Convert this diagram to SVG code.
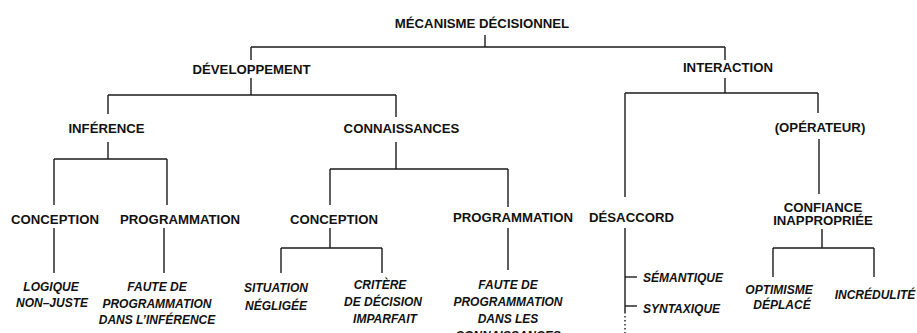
<svg xmlns="http://www.w3.org/2000/svg" width="917" height="333" viewBox="0 0 917 333">
<style>
.h{font-family:"Liberation Sans",Arial,sans-serif;font-weight:bold;font-size:13.2px;fill:#111;text-anchor:middle}
.i{font-family:"Liberation Sans",Arial,sans-serif;font-weight:bold;font-style:italic;font-size:12px;fill:#111;text-anchor:middle}
.l{text-anchor:start}
.c line{stroke:#1a1a1a;stroke-width:1.4;fill:none}
.c line.d{stroke-dasharray:1.5 2.5}
</style>
<rect width="917" height="333" fill="#fff"/>
<g class="c" id="connectors">
<line x1="485" y1="35" x2="485" y2="47"/>
<line x1="251" y1="47" x2="725" y2="47"/>
<line x1="251" y1="47" x2="251" y2="60"/>
<line x1="725" y1="47" x2="725" y2="60"/>
<line x1="251" y1="78" x2="251" y2="95"/>
<line x1="108" y1="95" x2="396" y2="95"/>
<line x1="108" y1="95" x2="108" y2="114"/>
<line x1="396" y1="95" x2="396" y2="117"/>
<line x1="108" y1="142" x2="108" y2="159"/>
<line x1="54" y1="159" x2="167" y2="159"/>
<line x1="54" y1="159" x2="54" y2="205"/>
<line x1="167" y1="159" x2="167" y2="205"/>
<line x1="396" y1="142" x2="396" y2="169"/>
<line x1="330" y1="169" x2="508" y2="169"/>
<line x1="330" y1="169" x2="330" y2="205"/>
<line x1="508" y1="169" x2="508" y2="207"/>
<line x1="54" y1="228" x2="54" y2="273"/>
<line x1="164" y1="228" x2="164" y2="273"/>
<line x1="330" y1="228" x2="330" y2="248"/>
<line x1="281" y1="248" x2="382" y2="248"/>
<line x1="281" y1="248" x2="281" y2="273"/>
<line x1="382" y1="248" x2="382" y2="273"/>
<line x1="508" y1="228" x2="508" y2="270"/>
<line x1="725" y1="78" x2="725" y2="93"/>
<line x1="625" y1="93" x2="818" y2="93"/>
<line x1="818" y1="93" x2="818" y2="113"/>
<line x1="625" y1="93" x2="625" y2="197"/>
<line x1="819" y1="139" x2="819" y2="194"/>
<line x1="625" y1="228" x2="625" y2="312"/>
<line class="d" x1="625" y1="312" x2="625" y2="333"/>
<line x1="625" y1="277" x2="637" y2="277"/>
<line x1="625" y1="306" x2="637" y2="306"/>
<line x1="822" y1="229" x2="822" y2="248"/>
<line x1="773" y1="248" x2="874" y2="248"/>
<line x1="773" y1="248" x2="773" y2="277"/>
<line x1="874" y1="248" x2="874" y2="277"/>
</g>
<g id="n-mecanisme"><text class="h" x="482" y="28">MÉCANISME DÉCISIONNEL</text></g>
<g id="n-developpement"><text class="h" x="251.5" y="73.5">DÉVELOPPEMENT</text></g>
<g id="n-interaction"><text class="h" x="728" y="71.5">INTERACTION</text></g>
<g id="n-inference"><text class="h" x="106.5" y="132.7">INFÉRENCE</text></g>
<g id="n-connaissances"><text class="h" x="401.5" y="132.7">CONNAISSANCES</text></g>
<g id="n-operateur"><text class="h" x="820" y="131.7">(OPÉRATEUR)</text></g>
<g id="n-conception1"><text class="h" x="55" y="223.7">CONCEPTION</text></g>
<g id="n-programmation1"><text class="h" x="180" y="223.7">PROGRAMMATION</text></g>
<g id="n-conception2"><text class="h" x="334" y="223.7">CONCEPTION</text></g>
<g id="n-programmation2"><text class="h" x="513" y="221.7">PROGRAMMATION</text></g>
<g id="n-desaccord"><text class="h" x="631.5" y="221.7">DÉSACCORD</text></g>
<g id="n-confiance"><text class="h" x="823" y="211.8">CONFIANCE</text><text class="h" x="823" y="225">INAPPROPRIÉE</text></g>
<g id="n-logique"><text class="i" x="51" y="291.3">LOGIQUE</text><text class="i" x="52" y="307.3">NON–JUSTE</text></g>
<g id="n-faute1"><text class="i" x="157" y="291.3">FAUTE DE</text><text class="i" x="157" y="307.5">PROGRAMMATION</text><text class="i" x="157" y="324">DANS L’INFÉRENCE</text></g>
<g id="n-situation"><text class="i" x="276" y="292">SITUATION</text><text class="i" x="276" y="310.3">NÉGLIGÉE</text></g>
<g id="n-critere"><text class="i" x="380" y="289.3">CRITÈRE</text><text class="i" x="383" y="306.3">DE DÉCISION</text><text class="i" x="385" y="323.3">IMPARFAIT</text></g>
<g id="n-faute2"><text class="i" x="508" y="289.3">FAUTE DE</text><text class="i" x="508" y="306.3">PROGRAMMATION</text><text class="i" x="508" y="323.3">DANS LES</text><text class="i" x="508" y="340.3">CONNAISSANCES</text></g>
<g id="n-semantique"><text class="i l" x="643" y="282.3">SÉMANTIQUE</text></g>
<g id="n-syntaxique"><text class="i l" x="643" y="313.3">SYNTAXIQUE</text></g>
<g id="n-optimisme"><text class="i" x="779" y="294.3">OPTIMISME</text><text class="i" x="782" y="309.3">DÉPLACÉ</text></g>
<g id="n-incredulite"><text class="i" x="875" y="299.3">INCRÉDULITÉ</text></g>
</svg>
